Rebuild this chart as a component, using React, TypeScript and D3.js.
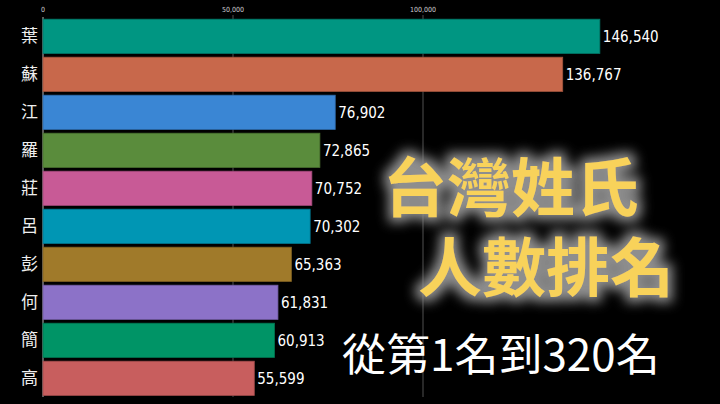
import React from "react";
import * as d3 from "d3";

const names = ["葉", "蘇", "江", "羅", "莊", "呂", "彭", "何", "簡", "高"];
const values = [146540, 136767, 76902, 72865, 70752, 70302, 65363, 61831, 60913, 55599];
const colors = ["#009682", "#c8684b", "#3a86d4", "#5a8c3c", "#c85a96", "#0096b4", "#a07a2a", "#8c72c8", "#009466", "#c85e5e"];
const ticks = [0, 50000, 100000];
const titleLines = ["台灣姓氏", "人數排名"];
const subtitle = "從第1名到320名";

export default function App() {
  const W = 720, H = 404;
  const x = d3.scaleLinear().domain([0, 100000]).range([43, 423]);
  const y = d3.scaleBand<string>().domain(names).range([17.3, 397.3]).paddingInner(0.1).paddingOuter(0.05);
  const fmt = d3.format(",");
  return (
    <svg width={W} height={H} style={{ position: "fixed", left: 0, top: 0, background: "#000" }}>
      <defs>
        <filter id="glow" x="-20%" y="-30%" width="140%" height="160%">
          <feMorphology in="SourceAlpha" operator="dilate" radius="5" result="d" />
          <feGaussianBlur in="d" stdDeviation="6" result="b" />
          <feFlood floodColor="#8e8e8e" floodOpacity="1" />
          <feComposite in2="b" operator="in" result="g" />
          <feMerge>
            <feMergeNode in="g" />
            <feMergeNode in="SourceGraphic" />
          </feMerge>
        </filter>
      </defs>
      <rect width={W} height={H} fill="#000" />
      {ticks.map((t) => (
        <g key={t}>
          <line x1={x(t)} x2={x(t)} y1={t === 0 ? 17 : 15} y2={397} stroke={t === 0 ? "#9a9a9a" : "#666"} strokeWidth={t === 0 ? 1.2 : 0.8} />
          <text x={x(t)} y={12} fill="#d0d0d0" fontSize={7} textAnchor="middle" fontFamily="'DejaVu Sans Condensed', sans-serif">{fmt(t)}</text>
        </g>
      ))}
      {names.map((n, i) => (
        <g key={n}>
          <rect x={x(0)} y={y(n)!} width={x(values[i]) - x(0)} height={y.bandwidth()} fill={colors[i]} stroke={d3.color(colors[i])!.darker(0.6).toString()} strokeWidth={0.8} />
          <text x={38} y={y(n)! + y.bandwidth() / 2} dy="0.36em" fill="#eee" fontSize={17} textAnchor="end" fontFamily="'Noto Sans CJK TC', sans-serif">{n}</text>
          <text x={x(values[i]) + 3} y={y(n)! + y.bandwidth() / 2} dy="0.36em" fill="#fff" fontSize={15} fontFamily="'DejaVu Sans Condensed', sans-serif">{fmt(values[i])}</text>
        </g>
      ))}
      <g filter="url(#glow)">
        <text x={383} y={211} fill="#f8d25a" fontSize={64} fontWeight={700} fontFamily="'Noto Sans CJK TC', sans-serif">{titleLines[0]}</text>
        <text x={418} y={291} fill="#f8d25a" fontSize={64} fontWeight={700} fontFamily="'Noto Sans CJK TC', sans-serif">{titleLines[1]}</text>
      </g>
      <text x={342} y={371} fill="#fff" fontSize={44} fontWeight={400} fontFamily="'Noto Sans CJK TC', sans-serif">{subtitle}</text>
    </svg>
  );
}
